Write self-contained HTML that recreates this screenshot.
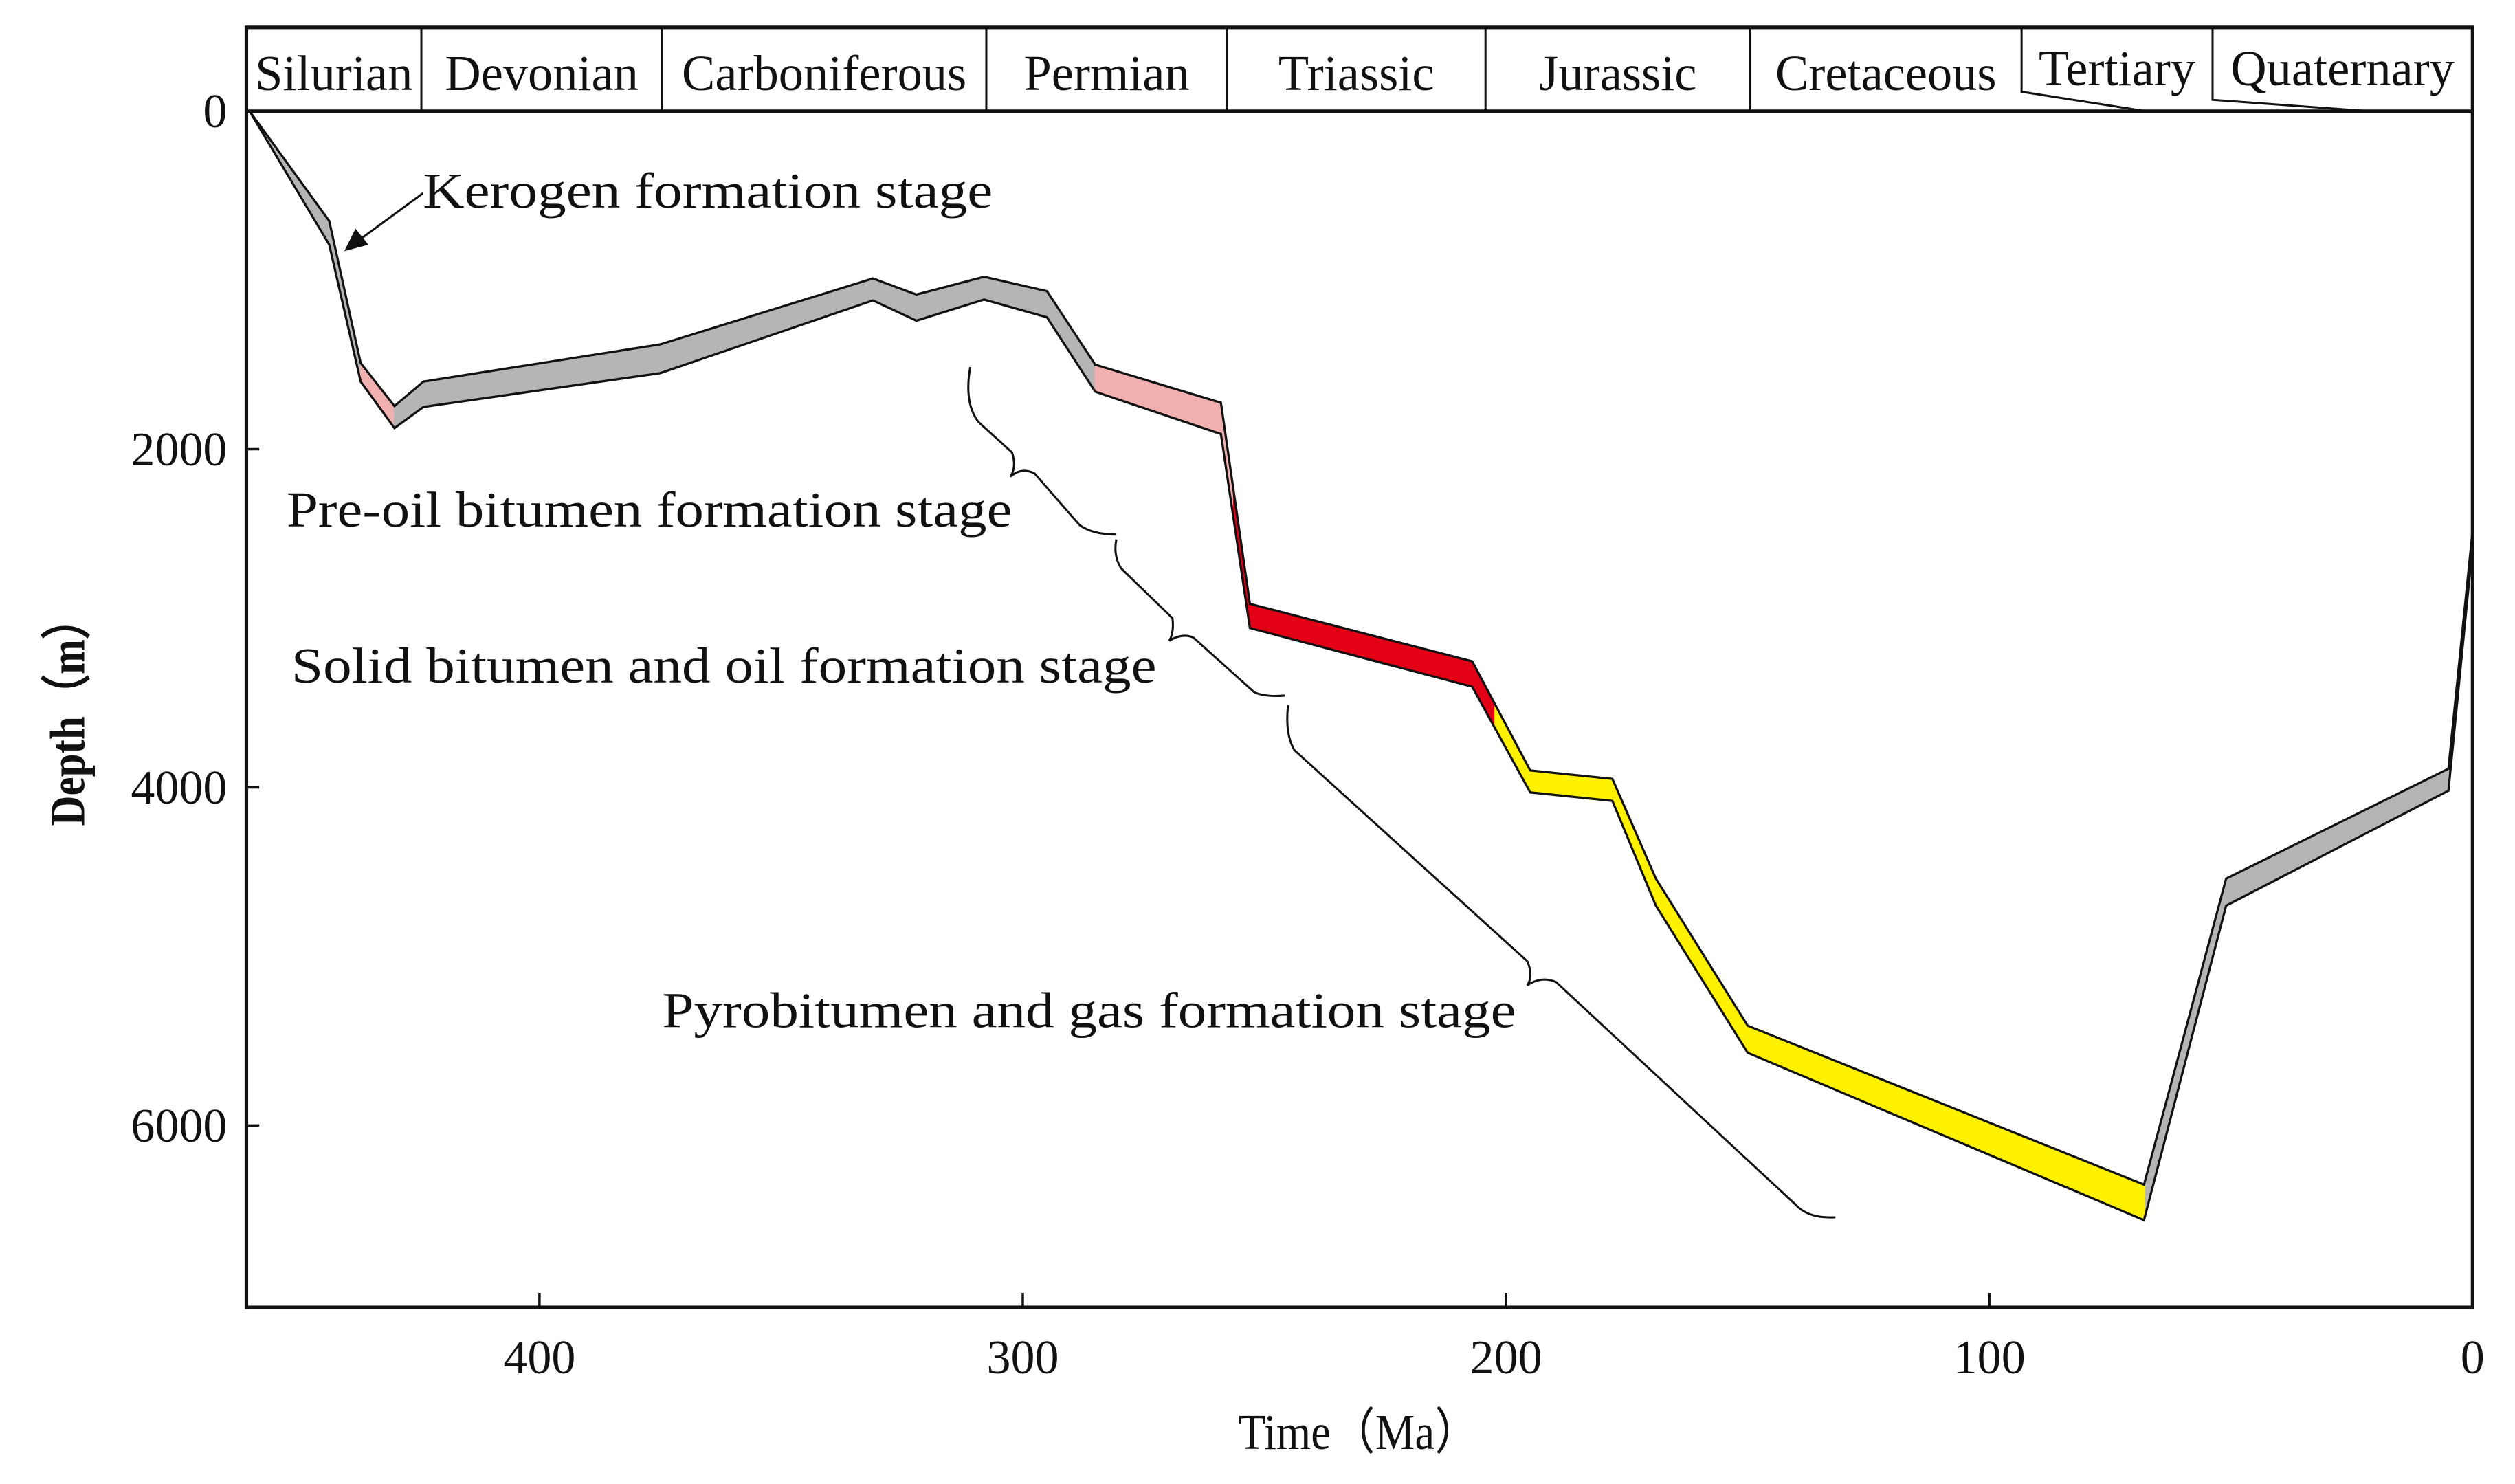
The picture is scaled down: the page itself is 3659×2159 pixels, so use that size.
<!DOCTYPE html>
<html><head><meta charset="utf-8"><style>
html,body{margin:0;padding:0;background:#fff;}
svg{display:block;font-family:"Liberation Serif",serif;}
</style></head><body>
<svg id="chart" width="3659" height="2159" viewBox="0 0 1562 921.7" xmlns="http://www.w3.org/2000/svg">
<defs id="defs"></defs>
<g transform="translate(153,0) scale(0.9969,1) translate(-153,0)">
<g id="plot"></g>
<g id="header"></g>
<g id="axes"></g>
<g id="notes"></g>
</g>
</svg>
<script>
const ages = [460, 443.5, 437, 430, 424, 375, 331, 322, 308, 295, 285, 259, 253, 207, 195, 178, 169, 150, 68, 51, 5, 0];
const topDepth = [0, 650, 1490, 1745, 1600, 1380, 990, 1085, 980, 1065, 1500, 1725, 2915, 3255, 3900, 3950, 4540, 5410, 6350, 4540, 3890, 2480];
const bottomDepth = [0, 790, 1600, 1875, 1750, 1550, 1120, 1240, 1115, 1220, 1660, 1910, 3058, 3405, 4030, 4080, 4700, 5570, 6560, 4700, 4020, 2570];
const stageStart = [460, 437, 430, 285, 256.4, 202.3, 67.7];
const stageEnd = [437, 430, 285, 256.4, 202.3, 67.7, 0];
const stageColors = ['#b5b5b5', '#f2b1b1', '#b5b5b5', '#f2b1b1', '#e30016', '#fff200', '#b5b5b5'];
const xTicks = [400, 300, 200, 100, 0];
const yTicks = [0, 2000, 4000, 6000];
const periods = ['Silurian','Devonian','Carboniferous','Permian','Triassic','Jurassic','Cretaceous','Tertiary','Quaternary'];
const periodEdges = [153, 262, 412, 614, 764, 925, 1090, 1259, 1378, 1540];

const NS = 'http://www.w3.org/2000/svg';
const X = t => 1540 - t * 3.011;
const Y = d => 69 + d * 0.105;
function mk(tag, attrs, parent) {
  const e = document.createElementNS(NS, tag);
  for (const k in attrs) e.setAttribute(k, attrs[k]);
  parent.appendChild(e);
  return e;
}
const plot = document.getElementById('plot');
const defs = document.getElementById('defs');
const header = document.getElementById('header');
const axes = document.getElementById('axes');
const notes = document.getElementById('notes');

let pts = [];
for (let i = 0; i < ages.length; i++) pts.push(X(ages[i]) + ',' + Y(topDepth[i]));
for (let i = ages.length - 1; i >= 0; i--) pts.push(X(ages[i]) + ',' + Y(bottomDepth[i]));
const polyStr = pts.join(' ');

for (let s = 0; s < stageColors.length; s++) {
  const cp = mk('clipPath', {id: 'clip' + s}, defs);
  const x0 = X(stageStart[s]) - 0.3, x1 = X(stageEnd[s]) + 0.3;
  mk('rect', {x: x0, y: 0, width: x1 - x0, height: 900}, cp);
  const p = mk('polygon', {points: polyStr, fill: stageColors[s], 'clip-path': 'url(#clip' + s + ')'}, plot);
  
  
}
const outline = mk('polygon', {points: polyStr, fill: 'none', stroke: '#111', 'stroke-width': 1.4, 'stroke-linejoin': 'miter'}, plot);



const frame = mk('rect', {x: 153, y: 17, width: 1387, height: 795, fill: 'none', stroke: '#111', 'stroke-width': 2.2}, axes);


mk('line', {x1: 153, y1: 69, x2: 1540, y2: 69, stroke: '#111', 'stroke-width': 2}, axes);

for (let i = 0; i < periods.length; i++) {
  const x0 = periodEdges[i], x1 = periodEdges[i + 1];
  if (i > 0 && i < 7) mk('line', {x1: x0, y1: 17, x2: x0, y2: 69, stroke: '#111', 'stroke-width': 1.3}, header);
  const isLate = i >= 7;
  const t = mk('text', {x: (x0 + x1) / 2, y: isLate ? 53 : 56, 'text-anchor': 'middle', 'font-size': 31, fill: '#111'}, header);
  t.textContent = periods[i];
  
  
}
mk('polyline', {points: '1259,17 1259,57 1336,69', fill: 'none', stroke: '#111', 'stroke-width': 1.3}, header);
mk('polyline', {points: '1378,17 1378,62 1475,69', fill: 'none', stroke: '#111', 'stroke-width': 1.3}, header);

xTicks.forEach(v => {
  mk('line', {x1: X(v), y1: 812, x2: X(v), y2: 803, stroke: '#111', 'stroke-width': 1.5}, axes);
  const t = mk('text', {x: X(v), y: 853, 'text-anchor': 'middle', 'font-size': 30, fill: '#111'}, axes);
  t.textContent = v;
  
  
});
yTicks.forEach(v => {
  mk('line', {x1: 153, y1: Y(v), x2: 161, y2: Y(v), stroke: '#111', 'stroke-width': 1.5}, axes);
  const t = mk('text', {x: 141, y: Y(v) + 10, 'text-anchor': 'end', 'font-size': 30, fill: '#111'}, axes);
  t.textContent = v;
  
  
});
</script>
<script>
(function(){
const NS = 'http://www.w3.org/2000/svg';
const notes = document.getElementById('notes');
const axes = document.getElementById('axes');
function t(x, y, s, w, name, parent, extra) {
  const e = document.createElementNS(NS, 'text');
  e.setAttribute('x', x); e.setAttribute('y', y);
  e.setAttribute('font-size', 31); e.setAttribute('fill', '#111');
  if (w) { e.setAttribute('textLength', w); e.setAttribute('lengthAdjust', 'spacingAndGlyphs'); }
  if (extra) for (const k in extra) e.setAttribute(k, extra[k]);
  e.textContent = s;
  
  
  parent.appendChild(e);
}
t(263, 129, 'Kerogen formation stage', 355, 'kerogen-stage-label', notes);
t(178, 327, 'Pre-oil bitumen formation stage', 452, 'pre-oil-bitumen-stage-label', notes);
t(181, 424, 'Solid bitumen and oil formation stage', 539, 'solid-bitumen-stage-label', notes);
t(412, 638, 'Pyrobitumen and gas formation stage', 532, 'pyrobitumen-stage-label', notes);
t(771, 900, 'Time（Ma）', 150, 'x-axis-title', axes);
t(0, 0, 'Depth（m）', 142, 'y-axis-title', axes, {transform: 'translate(52,513) rotate(-90)', 'font-weight': 'bold'});

function p(d, name) {
  const e = document.createElementNS(NS, 'path');
  e.setAttribute('d', d); e.setAttribute('fill', 'none');
  e.setAttribute('stroke', '#111'); e.setAttribute('stroke-width', 1.3);
  
  
  notes.appendChild(e);
}
p('M604,228 Q600,250 609,262 L630,281 Q633,290 629,296 Q636,290 644,294 L672,326 Q680,332 695,332', 'brace-pre-oil');
p('M695,335 Q693,345 698,353 L730,384 Q731,393 728,398 Q736,393 743,396 L781,430 Q788,433 800,432', 'brace-solid-bitumen');
p('M802,438 Q800,456 806,466 L951,597 Q955,606 951,612 Q960,606 969,610 L1118,748 Q1126,757 1143,756', 'brace-pyrobitumen');
p('M263,120 L222,150', 'kerogen-arrow-line');
const a = document.createElementNS(NS, 'polygon');
a.setAttribute('points', '214,156 221,142 229,152');
a.setAttribute('fill', '#111');


notes.appendChild(a);
})();
</script>
</body></html>
